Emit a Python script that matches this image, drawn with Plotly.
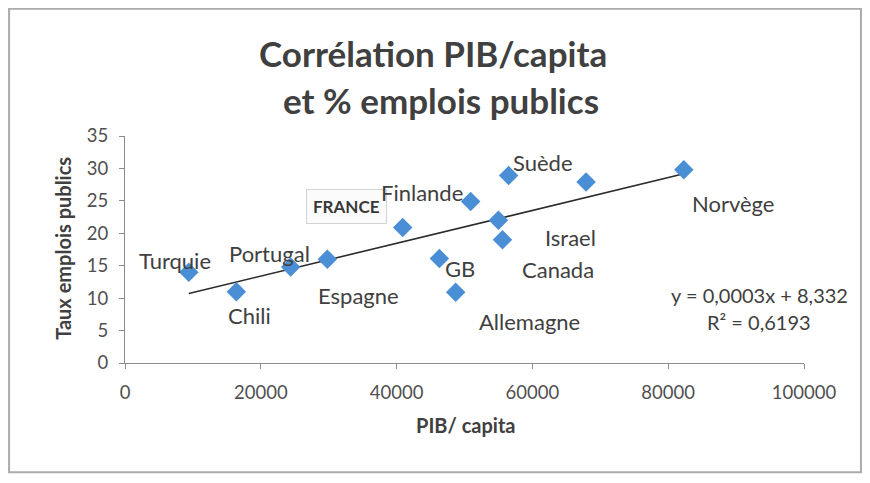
import numpy as np
import plotly.graph_objects as go

# ---- data ----
countries = ["Turquie", "Chili", "Portugal", "Espagne", "FRANCE", "GB", "Allemagne",
             "Finlande", "Canada", "Israel", "Suède", "", "Norvège"]
pib_capita = [9400, 16400, 24400, 29800, 40900, 46300, 48700,
              50900, 55000, 55600, 56500, 67900, 82300]
emplois_publics = [14.0, 11.0, 14.8, 16.0, 20.9, 16.1, 10.9,
                   24.9, 22.0, 19.0, 28.9, 27.9, 29.8]
x_ticks = [0, 20000, 40000, 60000, 80000, 100000]
y_ticks = [0, 5, 10, 15, 20, 25, 30, 35]
equation_text = "y = 0,0003x + 8,332"
r2_text = "R² = 0,6193"
title_lines = ["Corrélation PIB/capita", "et % emplois publics"]
x_title = "PIB/ capita"
y_title = "Taux emplois publics"

# label pixel offsets (dx, dy) relative to each point
label_shift = [(-14, 12), (13, -24), (-21, 14), (31, -36), (-56, 21), (21, -10), (74, -29),
               (-49, 9), (60, -49), (68, 2), (34, 13), (0, 0), (49, -34)]

FONT = "Lato, Carlito, Calibri, sans-serif"
TXT = "#404040"
OFF = 8  # page body margin
W, H = 870 - 2 * OFF, 483 - 2 * OFF
# plot area in page pixels: x 124.5..804, y 135.7..362.7
L = 124.5 - OFF
T = 135.7 - OFF
R = W - (804 - OFF)
B = H - (362.7 - OFF)

fig = go.Figure()

# trendline from least squares fit
coef = np.polyfit(pib_capita, emplois_publics, 1)
xl = np.array([min(pib_capita), max(pib_capita)])
fig.add_trace(go.Scatter(x=xl, y=np.polyval(coef, xl), mode="lines",
                         line=dict(color="#2b2b2b", width=1.6), hoverinfo="skip",
                         showlegend=False))

fig.add_trace(go.Scatter(x=pib_capita, y=emplois_publics, mode="markers",
                         marker=dict(symbol="diamond", size=15, color="#4A8FD6",
                                     line=dict(width=0)),
                         showlegend=False))

for name, xv, yv, (dx, dy) in zip(countries, pib_capita, emplois_publics, label_shift):
    if not name:
        continue
    if name == "FRANCE":
        fig.add_annotation(x=xv, y=yv, xref="x", yref="y", text="<b>FRANCE</b>",
                           showarrow=False, xshift=dx, yshift=dy,
                           xanchor="center", yanchor="middle",
                           font=dict(family=FONT, size=17, color="#383838"),
                           bgcolor="#fbfbfb", bordercolor="#d4d4d4", borderwidth=1,
                           borderpad=6)
    else:
        fig.add_annotation(x=xv, y=yv, xref="x", yref="y", text=name,
                           showarrow=False, xshift=dx, yshift=dy,
                           xanchor="center", yanchor="middle",
                           font=dict(family=FONT, size=22, color=TXT))

pw = W - L - R
ph = H - T - B
def px(xp):
    return (xp - OFF - L) / pw
def py(yp):
    return (H - B - (yp - OFF)) / ph

def page_text(xp, yp, text, size, bold=False, angle=0, color=TXT):
    fig.add_annotation(x=px(xp), y=py(yp), xref="paper", yref="paper",
                       text=("<b>" + text + "</b>") if bold else text,
                       showarrow=False, xanchor="center", yanchor="middle",
                       textangle=angle, font=dict(family=FONT, size=size, color=color))

page_text(759, 295, equation_text, 20)
page_text(759, 322, r2_text, 20)
page_text(433, 53, title_lines[0], 35, bold=True)
page_text(441, 100, title_lines[1], 35, bold=True)
page_text(465, 425, x_title, 20, bold=True)
page_text(63, 248, y_title, 20, bold=True, angle=-90)

# outer chart border
fig.add_shape(type="rect", xref="paper", yref="paper",
              x0=px(8.5), x1=px(861), y0=py(472), y1=py(8.5),
              line=dict(color="#ababab", width=2), layer="below")

fig.update_xaxes(range=[0, 100000], tickvals=x_ticks, ticktext=[str(v) for v in x_ticks],
                 showgrid=False, zeroline=False, showline=True, linecolor="#8c8c8c",
                 linewidth=1, ticks="outside", ticklen=5, tickcolor="#8c8c8c",
                 ticklabelstandoff=8,
                 tickfont=dict(family=FONT, size=18.5, color="#505050"))
fig.update_yaxes(range=[0, 35], tickvals=y_ticks, showgrid=False, zeroline=False,
                 showline=True, linecolor="#8c8c8c", linewidth=1, ticks="outside",
                 ticklen=5, tickcolor="#8c8c8c", ticklabelstandoff=7,
                 tickfont=dict(family=FONT, size=18.5, color="#505050"))

fig.update_layout(width=W, height=H, margin=dict(l=L, r=R, t=T, b=B),
                  paper_bgcolor="white", plot_bgcolor="white", showlegend=False)

fig.write_html("out.html")
